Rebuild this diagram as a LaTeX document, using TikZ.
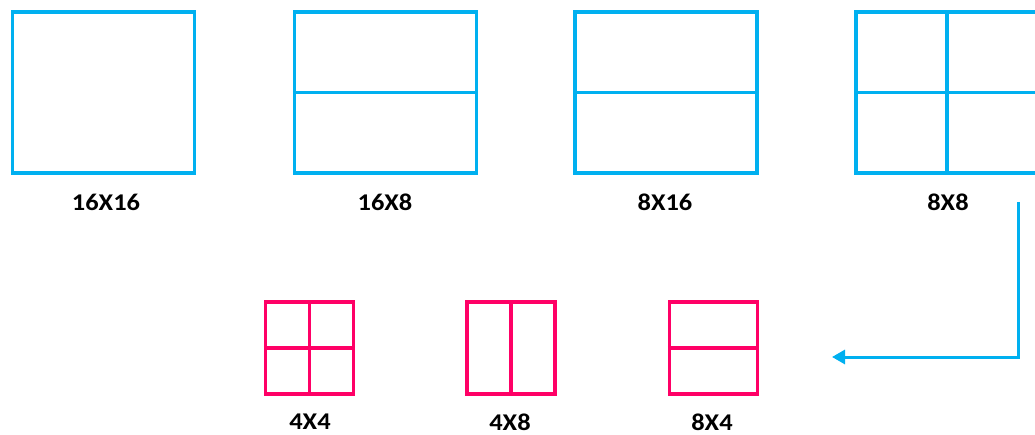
\documentclass[tikz,border=0pt]{standalone}
\usepackage{fontspec}
\setmainfont{Carlito}
\usetikzlibrary{arrows.meta}
\definecolor{blockblue}{HTML}{00B0F0}
\definecolor{blockpink}{HTML}{FF0066}
\begin{document}
\begin{tikzpicture}[x=1pt,y=-1pt,
  bigblk/.style={draw=blockblue,line width=3.5pt,minimum width=182pt,minimum height=161pt,inner sep=0pt},
  smallblk/.style={draw=blockpink,line width=3.5pt,minimum width=88pt,minimum height=92pt,inner sep=0pt},
  split/.style={line width=3.5pt},
  lbl/.style={font=\fontsize{24}{28}\selectfont\bfseries,inner sep=0pt,xscale=1.1}]
\useasboundingbox (0,0) rectangle (1035,435);
\clip (0,0) rectangle (1035,435);

% Large partitions
\node[bigblk] (b16x16) at (103.5,92.5) {};
\node[lbl] (l16x16) at (106,202) {16X16};

\node[bigblk] (b16x8) at (385.5,92.5) {};
\draw[split,blockblue] (b16x8.west) -- (b16x8.east);
\node[lbl] (l16x8) at (385,202) {16X8};

\node[bigblk] (b8x16) at (666,92.5) {};
\draw[split,blockblue] (b8x16.west) -- (b8x16.east);
\node[lbl] (l8x16) at (665,202) {8X16};

\node[bigblk] (b8x8) at (947,92.5) {};
\draw[split,blockblue] (b8x8.west) -- (b8x8.east);
\draw[split,blockblue] (b8x8.north) -- (b8x8.south);
\node[lbl] (l8x8) at (948,202) {8X8};

% Small partitions
\node[smallblk] (b4x4) at (309.5,348) {};
\draw[split,blockpink] (b4x4.west) -- (b4x4.east);
\draw[split,blockpink] (b4x4.north) -- (b4x4.south);
\node[lbl] (l4x4) at (310,422) {4X4};

\node[smallblk] (b4x8) at (511,348) {};
\draw[split,blockpink] (b4x8.north) -- (b4x8.south);
\node[lbl] (l4x8) at (510,422) {4X8};

\node[smallblk] (b8x4) at (713.5,348) {};
\draw[split,blockpink] (b8x4.west) -- (b8x4.east);
\node[lbl] (l8x4) at (712,422) {8X4};

% Arrow from 8X8 down to the small ones
\coordinate (arrstart) at (1018,202);
\coordinate (arrend) at (832,357);
\draw[blockblue,line width=3pt,-{Triangle[length=13pt,width=14pt]}] (arrstart) |- (arrend);
\end{tikzpicture}
\end{document}
